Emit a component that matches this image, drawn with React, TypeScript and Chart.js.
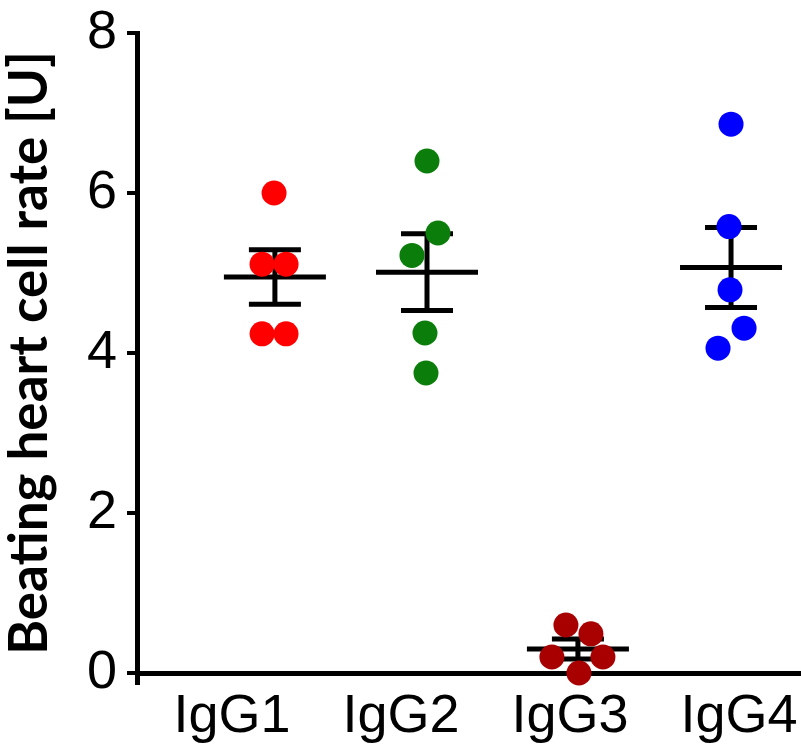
import React, { useEffect, useRef } from "react";
import { Chart, registerables } from "chart.js";

Chart.register(...registerables);

// ---- Data ----
const groupLabels = ["IgG1", "IgG2", "IgG3", "IgG4"];
const labelPositions = [1, 2, 3, 4];
const groupColors = ["#ff0000", "#0b7d0b", "#a80000", "#0000ff"];

const igg1Y = [6.0, 5.11, 5.11, 4.24, 4.24];
const igg1X = [1.249, 1.178, 1.32, 1.178, 1.32];
const igg2Y = [6.4, 5.5, 5.22, 4.25, 3.75];
const igg2X = [2.154, 2.219, 2.065, 2.142, 2.148];
const igg3Y = [0.6, 0.49, 0.2, 0.2, 0.0];
const igg3X = [2.976, 3.124, 2.893, 3.195, 3.053];
const igg4Y = [6.86, 5.58, 4.79, 4.31, 4.06];
const igg4X = [3.953, 3.941, 3.947, 4.03, 3.876];

const groupCenters = [1.254, 2.154, 3.047, 3.953];
const groupMeans = [4.95, 5.01, 0.3, 5.07];
const groupSems = [0.34, 0.48, 0.125, 0.5];

const yTicks = [0, 2, 4, 6, 8];
const X_MIN = 0.438;
const X_MAX = 4.367;

const seriesY = [igg1Y, igg2Y, igg3Y, igg4Y];
const seriesX = [igg1X, igg2X, igg3X, igg4X];

const errorBarPlugin = {
  id: "meanSem",
  beforeDatasetsDraw(chart: any) {
    const { ctx } = chart;
    const xs = chart.scales.x;
    const ys = chart.scales.y;
    ctx.save();
    ctx.strokeStyle = "#000";
    ctx.lineWidth = 5;
    ctx.lineCap = "butt";
    groupCenters.forEach((c, i) => {
      const cx = xs.getPixelForValue(c);
      const ym = ys.getPixelForValue(groupMeans[i]);
      const yt = ys.getPixelForValue(groupMeans[i] + groupSems[i]);
      const yb = ys.getPixelForValue(groupMeans[i] - groupSems[i]);
      ctx.beginPath();
      ctx.moveTo(cx - 51, ym);
      ctx.lineTo(cx + 51, ym);
      ctx.moveTo(cx, yt);
      ctx.lineTo(cx, yb);
      ctx.moveTo(cx - 26, yt);
      ctx.lineTo(cx + 26, yt);
      ctx.moveTo(cx - 26, yb);
      ctx.lineTo(cx + 26, yb);
      ctx.stroke();
    });
    ctx.restore();
  },
};

export default function App() {
  const ref = useRef<HTMLCanvasElement>(null);

  useEffect(() => {
    if (!ref.current) return;
    const datasets = groupLabels.map((name, i) => ({
      label: name,
      data: seriesY[i].map((y, j) => ({ x: seriesX[i][j], y })),
      backgroundColor: groupColors[i],
      borderColor: groupColors[i],
      borderWidth: 0,
      pointRadius: 12.5,
      pointHoverRadius: 12.5,
      clip: false as any,
    }));

    const chart = new Chart(ref.current, {
      type: "scatter",
      data: { datasets },
      plugins: [errorBarPlugin],
      options: {
        animation: false,
        responsive: true,
        maintainAspectRatio: false,
        layout: { autoPadding: false, padding: { top: 33, left: 0, right: 0, bottom: 0 } },
        plugins: { legend: { display: false }, tooltip: { enabled: false } },
        scales: {
          x: {
            type: "linear",
            min: X_MIN,
            max: X_MAX,
            afterBuildTicks: (scale: any) => {
              scale.ticks = [{ value: X_MIN }, ...labelPositions.map((v) => ({ value: v }))];
            },
            afterFit: (scale: any) => {
              scale.height = 80;
              scale.paddingLeft = 0;
              scale.paddingRight = 0;
            },
            ticks: {
              autoSkip: false,
              maxRotation: 0,
              minRotation: 0,
              padding: 0,
              color: "#000",
              font: { family: "'Liberation Sans', Arial, sans-serif", size: 54 },
              callback: (v: any) => {
                const idx = labelPositions.indexOf(Number(v));
                return idx >= 0 ? groupLabels[idx] : "";
              },
            },
            grid: {
              drawOnChartArea: false,
              drawTicks: true,
              tickLength: 12,
              lineWidth: 5,
              color: (c: any) => (c.tick && c.tick.value === X_MIN ? "#000" : "rgba(0,0,0,0)"),
            },
            border: { display: true, color: "#000", width: 5 },
          },
          y: {
            type: "linear",
            min: 0,
            max: 8,
            afterBuildTicks: (scale: any) => {
              scale.ticks = yTicks.map((v) => ({ value: v }));
            },
            afterFit: (scale: any) => {
              scale.width = 137;
              scale.paddingTop = 0;
              scale.paddingBottom = 0;
            },
            ticks: {
              padding: 10,
              color: "#000",
              font: { family: "'Liberation Sans', Arial, sans-serif", size: 54 },
            },
            grid: {
              drawOnChartArea: false,
              drawTicks: true,
              tickLength: 10,
              lineWidth: 4,
              color: "#000",
            },
            border: { display: true, color: "#000", width: 5 },
            title: {
              display: true,
              text: "Beating heart cell rate [U]",
              color: "#000",
              font: { family: "Lato, 'Open Sans', sans-serif", weight: "bold", size: 53 },
              padding: { top: -2, bottom: 0 },
            },
          },
        },
      },
    });
    return () => chart.destroy();
  }, []);

  return (
    <div style={{ position: "absolute", left: 0, top: 0, width: 801, height: 753, background: "#fff" }}>
      <canvas ref={ref} />
    </div>
  );
}
